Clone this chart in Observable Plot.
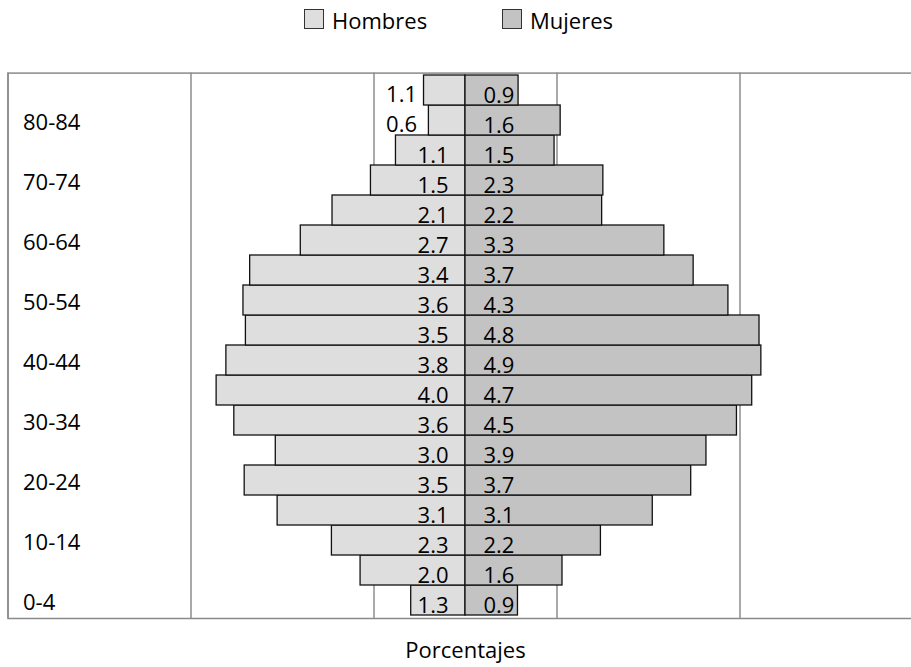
<!DOCTYPE html>
<html>
<head>
<meta charset="utf-8">
<script src="https://cdn.jsdelivr.net/npm/d3@7"></script>
<script src="https://cdn.jsdelivr.net/npm/@observablehq/plot@0.6"></script>
<style>
  html, body { margin: 0; padding: 0; background: #fff; overflow: hidden; }
  #wrap { width: 911px; height: 667px; overflow: hidden; position: relative; font-family: "Open Sans", sans-serif; }
  #legend { position: relative; height: 45px; font-size: 22px; color: #000; }
  .item { position: absolute; top: -3px; height: 45px; display: flex; align-items: center; }
  .sw { width: 18px; height: 18px; border: 1.5px solid #333; margin-right: 8px; margin-top: -2px; }
  #chart { width: 923px; }
</style>
</head>
<body>
<div id="wrap">
  <div id="legend"></div>
  <div id="chart"></div>
</div>
<script>
// Age groups (bottom to top)
const ages = ["0-4","5-9","10-14","15-19","20-24","25-29","30-34","35-39","40-44","45-49","50-54","55-59","60-64","65-69","70-74","75-79","80-84","85+"];
// Bar lengths as drawn (percent units of the horizontal axis)
const hombres = [0.89, 1.72, 2.19, 3.08, 3.62, 3.11, 3.79, 4.08, 3.92, 3.60, 3.64, 3.53, 2.70, 2.18, 1.55, 1.14, 0.60, 0.68];
const mujeres = [0.86, 1.59, 2.22, 3.07, 3.70, 3.95, 4.45, 4.70, 4.85, 4.82, 4.31, 3.74, 3.26, 2.24, 2.26, 1.46, 1.56, 0.87];
// Data labels printed on the bars
const hombresLabels = ["1.3","2.0","2.3","3.1","3.5","3.0","3.6","4.0","3.8","3.5","3.6","3.4","2.7","2.1","1.5","1.1","0.6","1.1"];
const mujeresLabels = ["0.9","1.6","2.2","3.1","3.7","3.9","4.5","4.7","4.9","4.8","4.3","3.7","3.3","2.2","2.3","1.5","1.6","0.9"];
// Age labels shown on the axis
const ageTicks = ["0-4","10-14","20-24","30-34","40-44","50-54","60-64","70-74","80-84"];
// Gridlines
const gridX = [-7.5, -4.5, -1.5, 1.5, 4.5, 7.5];
const seriesNames = ["Hombres", "Mujeres"];
const seriesColors = ["#dedede", "#c3c3c3"];

const rows = ages.map((a, i) => ({age: a, h: hombres[i], m: mujeres[i], hl: hombresLabels[i], ml: mujeresLabels[i]}));

// Legend
const legend = document.getElementById("legend");
const legendLeft = [304, 502];
seriesNames.forEach((name, i) => {
  const it = document.createElement("div");
  it.className = "item";
  it.style.left = legendLeft[i] + "px";
  const sw = document.createElement("div");
  sw.className = "sw";
  sw.style.background = seriesColors[i];
  const t = document.createElement("span");
  t.textContent = name;
  it.appendChild(sw); it.appendChild(t);
  legend.appendChild(it);
});

const plot = Plot.plot({
  width: 923,
  height: 622,
  marginLeft: 7.5,
  marginRight: 0.5,
  marginTop: 27.6,
  marginBottom: 49,
  style: {fontFamily: "Open Sans, sans-serif", background: "#fff", color: "#000"},
  x: {domain: [-7.5, 7.5], axis: null},
  y: {domain: ages.slice().reverse(), padding: 0, axis: null},
  marks: [
    Plot.ruleX(gridX, {stroke: "#555", strokeWidth: 1}),
    Plot.frame({stroke: "#8a8a8a", strokeWidth: 1.5}),
    Plot.barX(rows, {y: "age", x1: 0, x2: d => -d.h, fill: seriesColors[0], stroke: "#111", strokeWidth: 1.3}),
    Plot.barX(rows, {y: "age", x1: 0, x2: "m", fill: seriesColors[1], stroke: "#111", strokeWidth: 1.3}),
    Plot.text(rows.filter(d => d.h >= 0.8), {y: "age", x: 0, text: "hl", textAnchor: "end", dx: -17, dy: 5, fontSize: 22, fill: "#000"}),
    Plot.text(rows.filter(d => d.h < 0.8), {y: "age", x: 0, text: "hl", textAnchor: "end", dx: -48.5, dy: 4, fontSize: 22, fill: "#000"}),
    Plot.text(rows, {y: "age", x: 0, text: "ml", textAnchor: "start", dx: 18, dy: 5, fontSize: 22, fill: "#000"}),
    Plot.text(ageTicks, {y: d => d, text: d => d, frameAnchor: "left", textAnchor: "start", dx: 15, dy: 2, fontSize: 22, fill: "#000"}),
    Plot.text(["Porcentajes"], {frameAnchor: "bottom", x: () => 0, text: d => d, dy: 39, fontSize: 22, fill: "#000"})
  ]
});
document.getElementById("chart").appendChild(plot);
</script>
</body>
</html>
